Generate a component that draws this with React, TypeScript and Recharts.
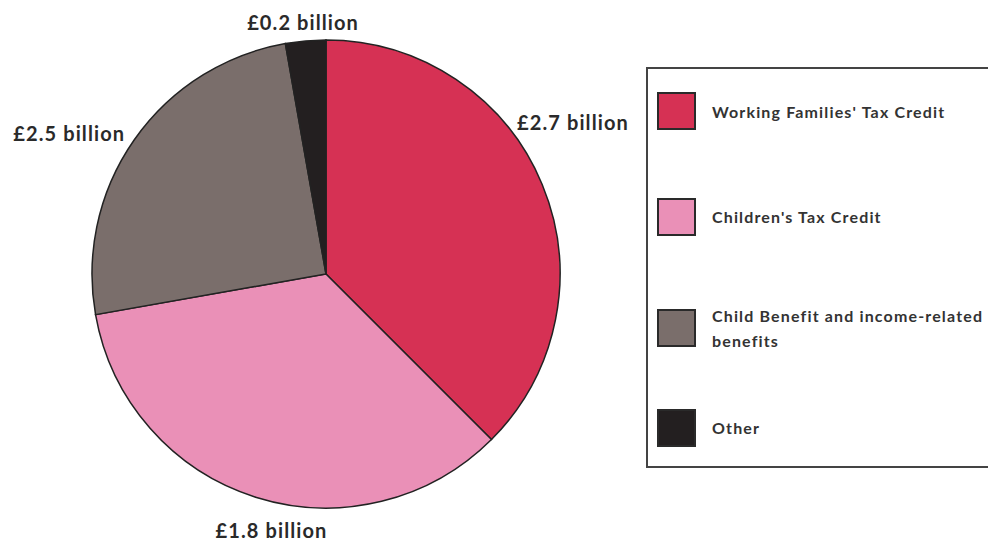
import React from 'react';
import { PieChart, Pie, Cell, Legend } from 'recharts';

const categories = [
  "Working Families' Tax Credit",
  "Children's Tax Credit",
  'Child Benefit and income-related benefits',
  'Other',
];
// slice sizes as drawn (£ billion)
const sliceValues = [2.7, 2.5, 1.8, 0.2];
// label texts as printed next to each slice
const sliceLabels = ['£2.7 billion', '£1.8 billion', '£2.5 billion', '£0.2 billion'];

const colors = ['#D63154', '#EA90B7', '#7A6E6B', '#231F20'];
// label placement (angle in degrees, distance from centre)
const labelAngles = [31.6, 258, 151.2, 95.2];
const labelDist = [290, 262, 293, 253];

const data = categories.map((name, i) => ({ name, value: sliceValues[i], label: sliceLabels[i] }));

const RAD = Math.PI / 180;

const renderLabel = (props: any) => {
  const { cx, cy, index } = props;
  const a = labelAngles[index] * RAD;
  const d = labelDist[index];
  const x = cx + d * Math.cos(a);
  const y = cy - d * Math.sin(a);
  return (
    <text
      x={x}
      y={y}
      textAnchor="middle"
      dominantBaseline="central"
      fontFamily="Lato, sans-serif"
      fontWeight={700}
      fontSize={20}
      letterSpacing={1.1}
      fill="#2a2a2a"
    >
      {sliceLabels[index]}
    </text>
  );
};

const LegendContent = () => (
  <div
    style={{
      boxSizing: 'border-box',
      width: 372,
      height: 401,
      border: '2px solid #444',
      background: '#fff',
      position: 'relative',
      fontFamily: 'Lato, sans-serif',
      fontWeight: 700,
      fontSize: 16,
      letterSpacing: 1.15,
      color: '#333',
    }}
  >
    {data.map((d, i) => (
      <div
        key={d.name}
        style={{
          position: 'absolute',
          left: 9,
          top: 23 + i * 105.5,
          display: 'flex',
          alignItems: 'center',
        }}
      >
        <div
          style={{
            boxSizing: 'border-box',
            width: 39,
            height: 38,
            background: colors[i],
            border: '2px solid #2a2a2a',
            flex: 'none',
          }}
        />
        <div style={{ marginLeft: 16, width: 300, lineHeight: '25px' }}>{d.name}</div>
      </div>
    ))}
  </div>
);

export default function App() {
  return (
    <div style={{ position: 'absolute', left: 0, top: 0, width: 988, height: 546, background: '#fff', overflow: 'hidden' }}>
      <PieChart width={988} height={546} margin={{ top: 0, right: 0, bottom: 0, left: 0 }}>
        <Pie
          data={data}
          dataKey="value"
          nameKey="name"
          cx={326}
          cy={274}
          outerRadius={234}
          startAngle={90}
          endAngle={-270}
          stroke="#222"
          strokeWidth={1.5}
          label={renderLabel}
          labelLine={false}
          isAnimationActive={false}
        >
          {data.map((d, i) => (
            <Cell key={d.name} fill={colors[i]} />
          ))}
        </Pie>
        <Legend
          content={<LegendContent />}
          layout="vertical"
          wrapperStyle={{ position: 'absolute', left: 646, top: 67, width: 372, height: 401 }}
        />
      </PieChart>
    </div>
  );
}
